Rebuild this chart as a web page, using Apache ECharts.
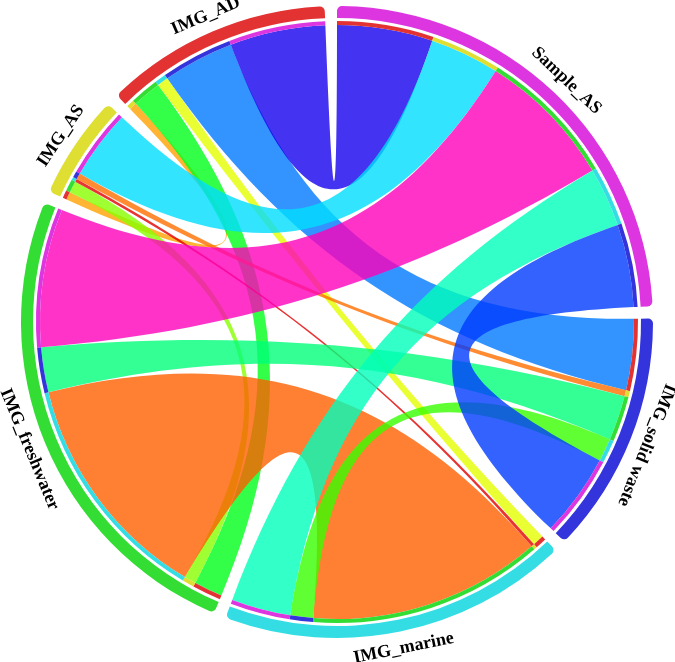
<!DOCTYPE html>
<html>
<head>
<meta charset="utf-8">
<script src="https://cdn.jsdelivr.net/npm/echarts@6/dist/echarts.min.js"></script>
<style>
html, body { margin: 0; padding: 0; background: #fff; }
#main { width: 675px; height: 662px; }
</style>
</head>
<body>
<div id="main"></div>
<script>
// sectors, clockwise from 12 o'clock
var sectors = ['Sample_AS', 'IMG_solid waste', 'IMG_marine', 'IMG_freshwater', 'IMG_AS', 'IMG_AD'];
var sectorColors = ['#dd35e0', '#3434dc', '#33dde3', '#33dd33', '#dede33', '#e33232'];

// ribbons
var linkSource = ['IMG_AD', 'IMG_AD', 'IMG_AD', 'IMG_AD', 'IMG_AD',
    'IMG_AS', 'IMG_AS', 'IMG_AS', 'IMG_AS',
    'IMG_freshwater', 'IMG_freshwater', 'IMG_freshwater',
    'IMG_marine', 'IMG_marine', 'IMG_solid waste'];
var linkTarget = ['IMG_AS', 'IMG_freshwater', 'IMG_marine', 'IMG_solid waste', 'Sample_AS',
    'IMG_freshwater', 'IMG_marine', 'IMG_solid waste', 'Sample_AS',
    'IMG_marine', 'IMG_solid waste', 'Sample_AS',
    'IMG_solid waste', 'Sample_AS', 'Sample_AS'];
var linkValue = [1.5, 5.6, 2.2, 13.9, 18.7,
    2.3, 0.6, 1.2, 13.6,
    45.5, 8.8, 27,
    4.5, 11.6, 16.2];
var linkColors = ['#ffa100', '#00ff1a', '#e5ff00', '#0079ff', '#1500ec',
    '#88ff00', '#e20000', '#ff6f00', '#00ddff',
    '#ff5f00', '#00ff79', '#ff00ba',
    '#38ff00', '#00ffba', '#003bff'];

var PAD = 2.25;
var CENTER = [337, 322];

function colorOf(name) {
    return sectorColors[sectors.indexOf(name)];
}

// same arithmetic as the chord layout, to place the thin ring and the labels
var total = {};
sectors.forEach(function (s) { total[s] = 0; });
linkValue.forEach(function (v, i) {
    total[linkSource[i]] += v;
    total[linkTarget[i]] += v;
});
var sum = 0;
sectors.forEach(function (s) { sum += total[s]; });
var unit = (360 - PAD * sectors.length) / sum;

var ends = {};
sectors.forEach(function (s) { ends[s] = []; });
linkValue.forEach(function (v, i) {
    ends[linkSource[i]].push({ value: v * unit, color: colorOf(linkTarget[i]) });
    ends[linkTarget[i]].push({ value: v * unit, color: colorOf(linkSource[i]) });
});

var ringData = [];
var labelData = [];
var angle = 90;
sectors.forEach(function (s) {
    ends[s].forEach(function (e) {
        ringData.push({ value: e.value, itemStyle: { color: e.color } });
    });
    ringData.push({ value: PAD, itemStyle: { color: 'rgba(0,0,0,0)' } });

    var span = total[s] * unit;
    var mid = angle - span / 2;
    var n = ((mid % 360) + 360) % 360;
    var rot = mid - 90;
    if (n > 180 && n < 300) rot += 180;
    rot = ((rot + 180) % 360 + 360) % 360 - 180;
    labelData.push({ name: s, value: span, label: { rotate: rot } });
    labelData.push({ name: '', value: PAD, label: { show: false } });
    angle -= span + PAD;
});

// one chord series per ribbon: all nodes take the ribbon's colour, only that ribbon is shown
var ribbonSeries = linkValue.map(function (v, k) {
    return {
        type: 'chord',
        center: CENTER,
        radius: [297, 298],
        startAngle: 90,
        clockwise: true,
        padAngle: PAD,
        minAngle: 0,
        silent: true,
        label: { show: false },
        itemStyle: { opacity: 0 },
        lineStyle: { color: 'source', opacity: 0 },
        data: sectors.map(function (s) {
            return { name: s, itemStyle: { color: linkColors[k] } };
        }),
        links: linkValue.map(function (w, j) {
            return {
                source: linkSource[j], target: linkTarget[j], value: w,
                lineStyle: { opacity: j === k ? 0.8 : 0 }
            };
        })
    };
});

var chart = echarts.init(document.getElementById('main'));
chart.setOption({
    backgroundColor: '#fff',
    animation: false,
    series: ribbonSeries.concat([
        {
            // thin ring: colour of the other end
            type: 'pie',
            center: CENTER,
            radius: [297, 301],
            startAngle: 90,
            clockwise: true,
            silent: true,
            label: { show: false },
            labelLine: { show: false },
            itemStyle: { borderWidth: 0 },
            data: ringData
        },
        {
            // outer track
            type: 'chord',
            center: CENTER,
            radius: [304, 316],
            startAngle: 90,
            clockwise: true,
            padAngle: PAD,
            minAngle: 0,
            silent: true,
            label: { show: false },
            lineStyle: { opacity: 0 },
            data: sectors.map(function (s, i) {
                return { name: s, itemStyle: { color: sectorColors[i] } };
            }),
            links: linkValue.map(function (v, i) {
                return { source: linkSource[i], target: linkTarget[i], value: v };
            })
        },
        {
            // sector names
            type: 'pie',
            center: CENTER,
            radius: [318, 342],
            startAngle: 90,
            clockwise: true,
            silent: true,
            itemStyle: { color: 'rgba(0,0,0,0)', borderWidth: 0 },
            labelLine: { show: false },
            label: {
                show: true,
                position: 'inside',
                formatter: '{b}',
                color: '#000',
                fontFamily: 'Liberation Serif',
                fontWeight: 'bold',
                fontSize: 18
            },
            data: labelData
        }
    ])
});
</script>
</body>
</html>
